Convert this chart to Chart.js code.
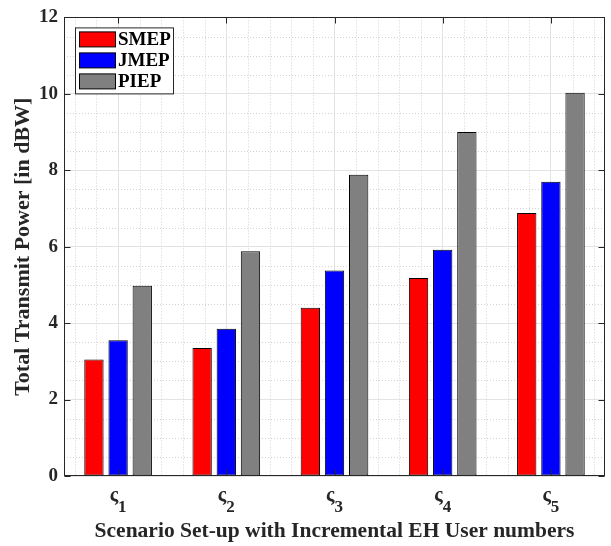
<!DOCTYPE html>
<html>
<head>
<meta charset="utf-8">
<script src="https://cdn.jsdelivr.net/npm/chart.js@4.4.0/dist/chart.umd.min.js"></script>
<style>
  html, body { margin: 0; padding: 0; background: #fff; }
</style>
</head>
<body>
<canvas id="chartPower" width="611" height="546"></canvas>
<script>
// data
const scenarios = ['ς1', 'ς2', 'ς3', 'ς4', 'ς5'];
const smepPower = [3.05, 3.35, 4.40, 5.18, 6.88];
const jmepPower = [3.55, 3.85, 5.38, 5.92, 7.70];
const piepPower = [4.98, 5.88, 7.88, 9.00, 10.03];
const yTicks = [0, 2, 4, 6, 8, 10, 12];

const serif = '"Liberation Serif", "Times New Roman", serif';
const axisColor = '#262626';

function hLine(ctx, x1, x2, y) {
    ctx.beginPath(); ctx.moveTo(x1, y); ctx.lineTo(x2, y); ctx.stroke();
}
function vLine(ctx, x, y1, y2) {
    ctx.beginPath(); ctx.moveTo(x, y1); ctx.lineTo(x, y2); ctx.stroke();
}

const matlabAxes = {
    id: 'matlabAxes',
    beforeDatasetsDraw(chart) {
        const { ctx, chartArea: a, scales: { x, y } } = chart;
        ctx.save();
        ctx.strokeStyle = '#d2d2d2';
        ctx.lineWidth = 1;
        ctx.setLineDash([1, 2]);
        // minor y grid every 0.5
        for (let i = 1; i < 24; i++) {
            if (i % 4 === 0) continue;
            const py = Math.round(y.getPixelForValue(i * 0.5)) + 0.5;
            hLine(ctx, a.left, a.right, py);
        }
        // minor x grid every 0.2 category
        for (let k = -2; k <= 22; k++) {
            if (k % 5 === 0) continue;
            const px = Math.round(x.getPixelForValue(k / 5)) + 0.5;
            vLine(ctx, px, a.top, a.bottom);
        }
        ctx.restore();
    },
    afterDraw(chart) {
        const { ctx, chartArea: a, scales: { x, y } } = chart;
        ctx.save();
        ctx.strokeStyle = axisColor;
        ctx.lineWidth = 1;
        const L = Math.round(a.left) + 0.5, R = Math.round(a.right) - 0.5;
        const T = Math.round(a.top) + 0.5, B = Math.round(a.bottom) - 0.5;
        ctx.strokeRect(L, T, R - L, B - T);
        const tl = 6;
        yTicks.forEach(v => {
            const py = Math.round(y.getPixelForValue(v)) + 0.5;
            hLine(ctx, L, L + tl, py);
            hLine(ctx, R, R - tl, py);
        });
        scenarios.forEach((s, i) => {
            const px = Math.round(x.getPixelForValue(i)) + 0.5;
            vLine(ctx, px, T, T + tl);
            vLine(ctx, px, B, B - tl);
        });

        // x tick labels: sigma with subscript index
        ctx.fillStyle = axisColor;
        ctx.textBaseline = 'alphabetic';
        ctx.textAlign = 'left';
        scenarios.forEach((s, i) => {
            const px = x.getPixelForValue(i);
            const main = s.charAt(0), sub = s.slice(1);
            ctx.font = 'bold 20px ' + serif;
            const w1 = ctx.measureText(main).width;
            ctx.font = 'bold 17px ' + serif;
            const w2 = ctx.measureText(sub).width;
            const x0 = px - (w1 + w2) / 2;
            ctx.font = 'bold 20px ' + serif;
            ctx.fillText(main, x0, a.bottom + 25);
            ctx.font = 'bold 17px ' + serif;
            ctx.fillText(sub, x0 + w1, a.bottom + 36);
        });

        // legend in upper-left corner
        const lx = a.left + 11, ly = a.top + 10, lw = 98, lh = 66;
        ctx.fillStyle = '#fff';
        ctx.fillRect(lx, ly, lw, lh);
        ctx.strokeStyle = axisColor;
        ctx.strokeRect(lx + 0.5, ly + 0.5, lw, lh);
        ctx.font = 'bold 19px ' + serif;
        ctx.textBaseline = 'middle';
        chart.data.datasets.forEach((ds, i) => {
            const cy = ly + 12 + i * 21;
            ctx.fillStyle = ds.backgroundColor;
            ctx.fillRect(lx + 4.5, cy - 7.5, 36, 15);
            ctx.strokeStyle = '#000';
            ctx.strokeRect(lx + 4.5, cy - 7.5, 36, 15);
            ctx.fillStyle = '#000';
            ctx.fillText(ds.label, lx + 43, cy + 1);
        });
        ctx.restore();
    }
};

const ctx = document.getElementById('chartPower').getContext('2d');
const myChart = new Chart(ctx, {
    type: 'bar',
    data: {
        labels: scenarios,
        datasets: [
            { label: 'SMEP', data: smepPower, backgroundColor: '#ff0000' },
            { label: 'JMEP', data: jmepPower, backgroundColor: '#0000ff' },
            { label: 'PIEP', data: piepPower, backgroundColor: '#808080' }
        ]
    },
    options: {
        responsive: false,
        animation: false,
        layout: { padding: { top: 11, right: 6, left: 0, bottom: 0 } },
        datasets: {
            bar: {
                borderColor: '#000',
                borderWidth: 1,
                borderSkipped: false,
                categoryPercentage: 0.67,
                barPercentage: 0.8
            }
        },
        scales: {
            x: {
                grid: { offset: false, color: '#e3e3e3', drawTicks: false },
                border: { display: false },
                ticks: { display: false },
                title: {
                    display: true,
                    text: 'Scenario Set-up with Incremental EH User numbers',
                    color: axisColor,
                    font: { family: serif, size: 21.5, weight: 'bold' },
                    padding: { top: 0, bottom: 2 }
                },
                afterFit(scale) { scale.height = 70; }
            },
            y: {
                min: 0,
                max: 12,
                grid: { color: '#e3e3e3', drawTicks: false },
                border: { display: false },
                ticks: {
                    stepSize: 2,
                    padding: 6,
                    color: axisColor,
                    font: { family: serif, size: 19, weight: 'bold' }
                },
                title: {
                    display: true,
                    text: 'Total Transmit Power [in dBW]',
                    color: axisColor,
                    font: { family: serif, size: 22, weight: 'bold' },
                    padding: { top: 10, bottom: 0 }
                },
                afterFit(scale) { scale.width = 64; }
            }
        },
        plugins: {
            legend: { display: false },
            tooltip: { enabled: false }
        }
    },
    plugins: [matlabAxes]
});
</script>
</body>
</html>
